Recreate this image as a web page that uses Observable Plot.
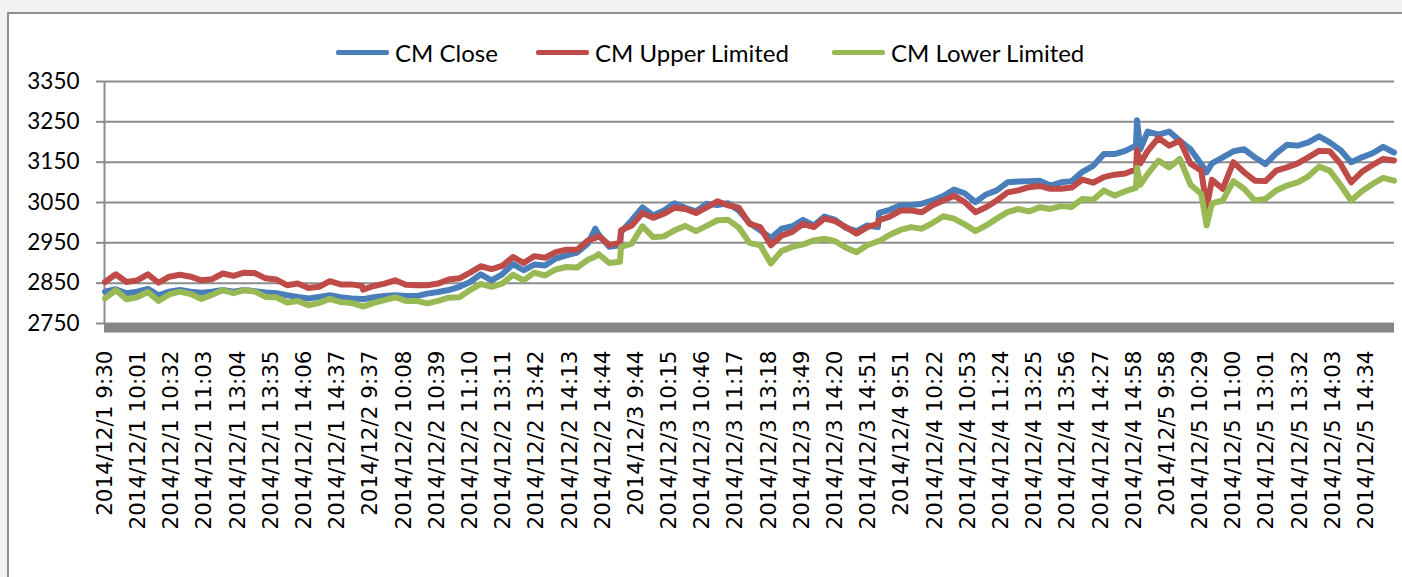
<!DOCTYPE html>
<html><head><meta charset="utf-8">
<script src="https://cdn.jsdelivr.net/npm/d3@7"></script>
<script src="https://cdn.jsdelivr.net/npm/@observablehq/plot@0.6"></script>
<style>
html,body{margin:0;padding:0}
body{background:#f2f2f2;width:1402px;height:577px;overflow:hidden;position:relative;font-family:Lato,sans-serif}
#panel{position:absolute;left:7px;top:12px;width:1430px;height:620px;background:#fff;border:2px solid #8e8e8e;box-sizing:border-box}
#chart{position:absolute;left:0;top:0}
.item{position:absolute;top:38px;height:28px;display:flex;align-items:center;font-size:24px;color:#000;white-space:nowrap}
.sw{display:inline-block;width:53px;height:5px;margin-right:6px;border-radius:2px}
</style></head>
<body>
<div id="panel"></div>
<div id="chart"></div>
<div id="legend"></div>
<script>
const days = ["2014/12/1", "2014/12/2", "2014/12/3", "2014/12/4", "2014/12/5"];
const seriesNames = ["CM Close", "CM Upper Limited", "CM Lower Limited"];
const seriesColors = ["#4a7ebb", "#be4b48", "#98b954"];
const yTicks = [2750, 2850, 2950, 3050, 3150, 3250, 3350];
const xLabels = [
  "2014/12/1 9:30","2014/12/1 10:01","2014/12/1 10:32","2014/12/1 11:03","2014/12/1 13:04","2014/12/1 13:35","2014/12/1 14:06","2014/12/1 14:37",
  "2014/12/2 9:37","2014/12/2 10:08","2014/12/2 10:39","2014/12/2 11:10","2014/12/2 13:11","2014/12/2 13:42","2014/12/2 14:13","2014/12/2 14:44",
  "2014/12/3 9:44","2014/12/3 10:15","2014/12/3 10:46","2014/12/3 11:17","2014/12/3 13:18","2014/12/3 13:49","2014/12/3 14:20","2014/12/3 14:51",
  "2014/12/4 9:51","2014/12/4 10:22","2014/12/4 10:53","2014/12/4 11:24","2014/12/4 13:25","2014/12/4 13:56","2014/12/4 14:27","2014/12/4 14:58",
  "2014/12/5 9:58","2014/12/5 10:29","2014/12/5 11:00","2014/12/5 13:01","2014/12/5 13:32","2014/12/5 14:03","2014/12/5 14:34"
];
const minutesPerDay = 241;   // 9:30-11:30 and 13:01-15:00
const labelEvery = 31;       // category interval between axis labels
const sampleStep = 10;       // minutes between sampled values within a day

const closeVals = [
  2829,2835,2825,2829,2836,2820,2829,2833,2829,2826,2829,2833,2829,2833,2830,2827,2825,2820,2816,2812,2816,2820,2815,2812,2811,
  2810,2815,2818,2820,2818,2818,2824,2828,2833,2841,2853,2872,2857,2872,2897,2882,2896,2894,2911,2919,2926,2948,2971,2940,2944,
  2977,3006,3038,3018,3030,3048,3037,3028,3047,3044,3048,3030,2999,2981,2962,2985,2991,3007,2993,3015,3007,2987,2979,2993,2989,
  3024,3032,3043,3044,3047,3055,3066,3082,3073,3051,3070,3080,3100,3102,3103,3104,3092,3100,3103,3126,3141,3170,3170,3178,3191,
  3254,3226,3218,3226,3203,3182,3145,3147,3162,3177,3182,3162,3145,3172,3193,3191,3199,3214,3199,3180,3150,3162,3172,3188,3174
];
const upperVals = [
  2853,2872,2853,2857,2872,2851,2866,2871,2866,2857,2860,2874,2868,2876,2875,2862,2859,2845,2849,2838,2841,2855,2847,2847,2843,
  2834,2843,2849,2857,2846,2845,2845,2849,2859,2862,2876,2892,2885,2893,2915,2900,2917,2913,2927,2933,2933,2956,2967,2945,2950,
  2981,2993,3024,3012,3022,3037,3034,3024,3038,3053,3043,3037,2997,2989,2944,2968,2977,2997,2989,3010,3004,2989,2973,2989,2997,
  3006,3015,3030,3030,3026,3043,3055,3067,3051,3026,3038,3055,3075,3080,3088,3091,3084,3084,3087,3107,3099,3113,3119,3122,3132,
  3180,3178,3210,3191,3203,3146,3129,3106,3084,3150,3125,3104,3103,3129,3137,3147,3162,3178,3177,3146,3100,3126,3143,3158,3154
];
const lowerVals = [
  2812,2833,2810,2815,2828,2806,2822,2829,2823,2811,2821,2833,2825,2833,2829,2816,2815,2802,2806,2795,2801,2811,2803,2801,2793,
  2792,2801,2808,2815,2806,2806,2800,2806,2814,2815,2833,2848,2841,2849,2871,2857,2876,2869,2884,2890,2889,2908,2922,2900,2903,
  2940,2948,2991,2964,2966,2981,2992,2979,2992,3006,3007,2988,2950,2944,2899,2930,2940,2946,2956,2960,2954,2938,2927,2944,2954,
  2954,2970,2982,2989,2985,2999,3016,3010,2996,2979,2993,3010,3026,3034,3028,3038,3034,3041,3039,3059,3057,3080,3067,3078,3086,
  3136,3121,3154,3137,3158,3094,3071,3048,3055,3103,3084,3055,3059,3080,3092,3100,3115,3139,3129,3094,3055,3078,3096,3111,3104
];
// extra readings at sharp features: minute index with the three values
const extraIdx   = [458, 967, 1029];
const extraClose = [2985, 3182, 3125];
const extraUpper = [2962, 3147, 3038];
const extraLower = [2916, 3094, 2993];

// ---- build table ----
const perDay = closeVals.length / days.length;
const rows = closeVals.map((v, i) => ({
  c: Math.floor(i / perDay) * minutesPerDay + (i % perDay) * sampleStep,
  close: v, upper: upperVals[i], lower: lowerVals[i]
}));
extraIdx.forEach((c, j) => rows.push({c, close: extraClose[j], upper: extraUpper[j], lower: extraLower[j]}));
rows.sort((a, b) => a.c - b.c);
const N = minutesPerDay * days.length;
const tickIdx = xLabels.map((_, i) => i * labelEvery);
const labelOf = new Map(tickIdx.map((c, i) => [c, xLabels[i]]));

const grey = "#8c8c8c";
const chart = Plot.plot({
  width: 1402, height: 577,
  marginLeft: 104, marginRight: 8, marginTop: 81, marginBottom: 254,
  style: {background: "transparent", overflow: "visible"},
  x: {type: "linear", domain: [-0.5, N - 0.5], axis: null},
  y: {domain: [2750, 3350], axis: null},
  marks: [
    Plot.gridY(yTicks, {stroke: grey, strokeOpacity: 1, strokeWidth: 2}),
    Plot.axisY(yTicks, {tickSize: 8, tickPadding: 17, stroke: grey, strokeWidth: 2, fill: "#000",
      fontSize: 22.5, fontFamily: "Lato", tickFormat: d => String(d), label: null}),
    Plot.ruleX([-0.5], {y1: 2750, y2: 3350, stroke: grey, strokeWidth: 2}),
    Plot.line(rows, {x: "c", y: "close", stroke: seriesColors[0], strokeWidth: 6, strokeLinejoin: "round"}),
    Plot.line(rows, {x: "c", y: "upper", stroke: seriesColors[1], strokeWidth: 6, strokeLinejoin: "round"}),
    Plot.line(rows, {x: "c", y: "lower", stroke: seriesColors[2], strokeWidth: 6, strokeLinejoin: "round"}),
    Plot.ruleY([2750], {stroke: "#858585", strokeWidth: 9, dy: 4.5}),
    Plot.text(tickIdx, {x: d => d, text: d => labelOf.get(d), frameAnchor: "bottom", rotate: -90,
      textAnchor: "end", lineAnchor: "middle", dy: 27, fontSize: 21.5, fontFamily: "DejaVu Sans", fill: "#000"})
  ]
});
document.getElementById("chart").appendChild(chart);

// ---- legend ----
const legendLeft = [336, 536, 832];
const lg = document.getElementById("legend");
seriesNames.forEach((name, i) => {
  const d = document.createElement("div");
  d.className = "item";
  d.style.left = legendLeft[i] + "px";
  d.innerHTML = `<span class="sw" style="background:${seriesColors[i]}"></span><span>${name}</span>`;
  lg.appendChild(d);
});
</script>
</body></html>
